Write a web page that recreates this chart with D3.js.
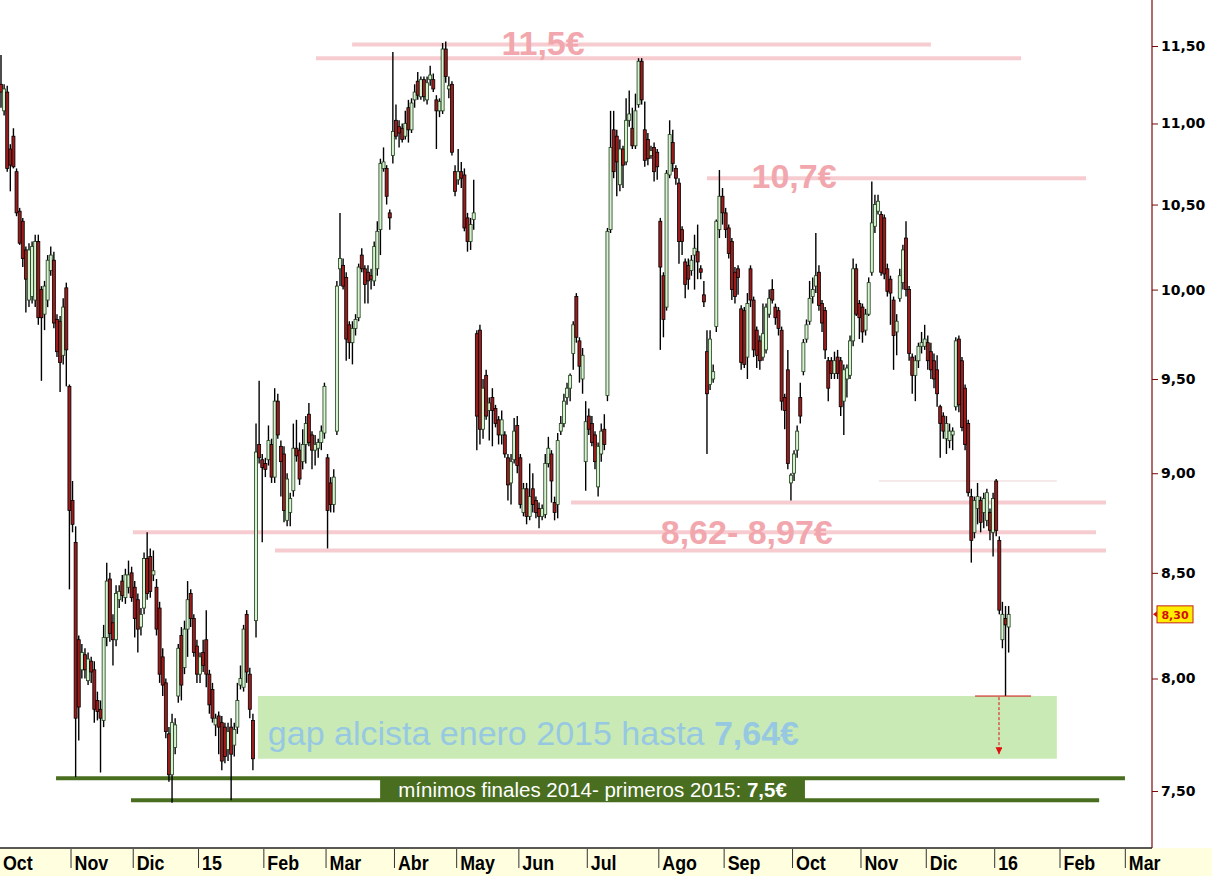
<!DOCTYPE html>
<html><head><meta charset="utf-8">
<script src="https://cdn.jsdelivr.net/npm/d3@7"></script>
<style>html,body{margin:0;padding:0;background:#fff}svg{display:block}</style>
</head><body><svg id="chart" width="1212" height="876"></svg>
<script>
// ---- axis data ----
const monthLabels = ["Oct","Nov","Dic","15","Feb","Mar","Abr","May","Jun","Jul","Ago","Sep","Oct","Nov","Dic","16","Feb","Mar"];
const monthDays   = [23,20,21,21,20,22,20,20,22,23,21,22,22,21,22,21,21,23];
const yTicks = [7.5,8,8.5,9,9.5,10,10.5,11,11.5];
const lastPrice = 8.30;

// ---- daily candles [open, high, low, close] ----
const ohlcOct14 = [[11.25,11.44,11.10,11.20],[11.08,11.25,11.05,11.22],[11.20,11.24,10.70,10.72],[10.84,10.87,10.58,10.74],[10.92,10.97,10.72,10.73],[10.70,10.72,10.43,10.45],[10.46,10.48,10.26,10.27],[10.40,10.42,10.13,10.18],[10.23,10.25,9.87,10.06],[9.94,10.27,9.90,10.23],[9.96,10.28,9.92,10.25],[9.94,10.32,9.90,10.28],[10.28,10.32,9.80,9.84],[10.00,10.02,9.49,9.84],[9.86,10.05,9.77,10.02],[9.94,10.20,9.90,10.17],[10.11,10.25,10.08,10.20],[10.17,10.22,9.78,9.81],[9.83,9.86,9.62,9.65],[9.82,9.85,9.43,9.59],[9.63,9.95,9.58,9.90],[10.01,10.04,9.46,9.66],[9.46,9.47,8.42,8.81]];
const ohlcNov14 = [[8.86,8.96,8.70,8.74],[8.65,8.73,7.56,7.82],[8.18,8.20,7.72,7.87],[8.04,8.16,8.00,8.12],[8.11,8.14,8.00,8.04],[7.99,8.12,7.97,8.09],[8.08,8.10,7.98,8.03],[8.04,8.08,7.80,7.86],[7.90,7.94,7.81,7.85],[7.86,7.90,7.58,7.82],[7.81,8.25,7.78,8.19],[8.19,8.55,8.15,8.46],[8.47,8.50,8.17,8.21],[8.26,8.30,8.06,8.18],[8.18,8.44,8.15,8.40],[8.37,8.44,8.33,8.41],[8.46,8.49,8.36,8.39],[8.38,8.52,8.35,8.49],[8.43,8.56,8.40,8.49],[8.50,8.53,8.36,8.38]];
const ohlcDec14 = [[8.43,8.46,8.19,8.28],[8.37,8.40,8.12,8.23],[8.24,8.33,8.20,8.30],[8.33,8.60,8.30,8.57],[8.57,8.70,8.37,8.40],[8.58,8.62,8.38,8.41],[8.49,8.61,8.46,8.51],[8.43,8.47,8.20,8.23],[8.33,8.36,7.98,8.02],[8.10,8.14,7.92,7.97],[7.98,8.00,7.73,7.76],[7.75,7.78,7.54,7.57],[7.57,7.84,7.45,7.80],[7.69,7.82,7.66,7.79],[7.92,8.16,7.89,8.14],[8.20,8.24,7.90,7.97],[8.05,8.27,8.02,8.23],[8.23,8.46,8.10,8.37],[8.40,8.42,8.24,8.28],[8.28,8.30,8.10,8.12],[8.15,8.18,7.98,8.02]];
const ohlcJan15 = [[8.02,8.12,7.98,8.10],[8.12,8.18,8.03,8.06],[8.18,8.32,7.96,8.02],[8.02,8.04,7.84,7.88],[7.95,7.98,7.80,7.82],[7.79,7.84,7.74,7.82],[7.83,7.85,7.66,7.78],[7.80,7.83,7.59,7.63],[7.78,7.80,7.62,7.65],[7.68,7.80,7.63,7.76],[7.78,7.82,7.46,7.66],[7.70,7.80,7.65,7.77],[7.78,7.98,7.75,7.90],[7.97,8.06,7.95,8.00],[7.96,8.25,7.94,8.23],[8.30,8.32,7.98,8.03],[8.02,8.05,7.82,7.86],[7.81,7.84,7.59,7.64],[8.27,9.26,8.19,9.11],[9.15,9.49,9.05,9.08],[9.07,9.10,8.65,9.03]];
const ohlcFeb15 = [[9.05,9.08,8.98,9.02],[9.07,9.25,9.04,9.17],[9.15,9.18,8.95,8.98],[8.98,9.45,8.95,9.38],[9.38,9.42,9.18,9.20],[9.14,9.17,8.88,9.06],[9.10,9.14,8.75,8.81],[8.76,9.00,8.73,8.97],[8.80,8.90,8.73,8.87],[8.91,9.26,8.88,9.13],[9.13,9.28,9.06,9.09],[9.12,9.16,8.94,8.97],[9.06,9.23,9.02,9.15],[9.15,9.30,9.05,9.26],[9.31,9.37,9.14,9.16],[9.20,9.22,9.02,9.12],[9.12,9.20,9.04,9.15],[9.13,9.18,9.08,9.16],[9.16,9.25,9.12,9.22],[9.21,9.48,9.18,9.46]];
const ohlcMar15 = [[9.08,9.10,8.62,8.81],[8.95,8.98,8.80,8.84],[8.84,9.02,8.80,8.98],[9.22,10.05,9.20,10.02],[10.12,10.45,10.02,10.18],[10.14,10.18,10.00,10.02],[10.07,10.10,9.60,9.72],[9.80,9.82,9.61,9.70],[9.70,9.82,9.58,9.78],[9.78,9.86,9.74,9.83],[9.84,10.15,9.82,10.13],[10.20,10.24,10.10,10.12],[10.12,10.14,9.92,10.03],[10.10,10.14,9.92,10.05],[10.08,10.12,10.00,10.06],[10.05,10.28,10.02,10.25],[10.12,10.40,10.08,10.34],[10.35,10.78,10.20,10.75],[10.72,10.85,10.70,10.76],[10.72,10.74,10.50,10.55],[10.45,10.47,10.35,10.42],[10.80,11.46,10.75,10.95]];
const ohlcApr15 = [[11.02,11.12,10.90,10.92],[10.98,11.02,10.85,10.94],[10.97,11.00,10.88,10.90],[10.92,11.08,10.90,11.00],[11.10,11.15,10.88,10.96],[10.96,11.16,10.94,11.13],[11.15,11.25,11.10,11.20],[11.27,11.33,11.15,11.18],[11.17,11.30,11.15,11.28],[11.28,11.30,11.14,11.17],[11.15,11.30,11.12,11.26],[11.28,11.37,11.24,11.31],[11.28,11.32,11.20,11.22],[11.15,11.18,10.84,11.08],[11.08,11.16,11.04,11.14],[11.08,11.52,11.06,11.48],[11.48,11.53,11.26,11.30],[11.22,11.30,11.16,11.24],[11.25,11.27,10.80,10.82],[10.70,10.74,10.55,10.58]];
const ohlcMay15 = [[10.65,10.84,10.62,10.70],[10.70,10.76,10.60,10.66],[10.68,10.72,10.34,10.36],[10.42,10.45,10.22,10.28],[10.28,10.42,10.23,10.38],[10.41,10.65,10.35,10.45],[9.75,9.77,9.12,9.30],[9.77,9.80,9.15,9.23],[9.23,9.50,9.18,9.45],[9.52,9.55,9.28,9.30],[9.33,9.40,9.17,9.37],[9.40,9.45,9.14,9.33],[9.34,9.36,9.24,9.26],[9.28,9.30,9.15,9.20],[9.20,9.33,9.15,9.28],[9.20,9.22,9.08,9.10],[9.08,9.10,8.86,8.94],[8.95,9.10,8.84,9.06],[9.07,9.29,9.05,9.22],[9.25,9.30,9.00,9.04]];
const ohlcJun15 = [[9.08,9.10,8.82,8.84],[8.80,8.95,8.78,8.92],[8.92,8.95,8.74,8.78],[8.78,9.05,8.76,8.88],[8.92,9.00,8.80,8.84],[8.86,8.88,8.77,8.80],[8.82,8.85,8.72,8.78],[8.78,8.84,8.76,8.82],[8.79,9.10,8.77,9.05],[9.05,9.19,9.03,9.13],[9.10,9.12,8.85,8.96],[8.85,8.88,8.76,8.80],[8.84,9.21,8.77,9.17],[9.22,9.30,9.20,9.26],[9.26,9.42,9.24,9.38],[9.40,9.48,9.36,9.45],[9.45,9.53,9.38,9.52],[9.64,9.82,9.55,9.80],[9.96,9.98,9.70,9.73],[9.71,9.73,9.48,9.57],[9.50,9.67,9.42,9.63],[9.06,9.38,8.91,9.27]];
const ohlcJul15 = [[9.30,9.34,9.20,9.23],[9.26,9.30,9.14,9.16],[9.20,9.22,9.02,9.06],[8.93,9.16,8.88,9.14],[9.10,9.26,9.06,9.22],[9.23,9.31,9.12,9.15],[9.41,10.36,9.38,10.34],[10.35,11.08,10.33,10.85],[10.96,11.08,10.66,10.70],[10.92,10.96,10.55,10.76],[10.62,10.90,10.58,10.84],[10.84,10.86,10.60,10.74],[10.76,11.16,10.74,11.02],[11.02,11.21,10.98,11.06],[10.97,11.10,10.84,10.86],[10.86,11.19,10.84,11.08],[11.12,11.42,11.10,11.40],[11.40,11.42,11.12,11.15],[10.96,11.14,10.73,10.77],[10.90,10.94,10.74,10.78],[10.80,10.86,10.78,10.83],[10.85,10.88,10.64,10.70],[10.82,10.84,10.65,10.73]];
const ohlcAug15 = [[10.40,10.42,9.66,10.13],[10.08,10.10,9.73,9.83],[9.90,10.71,9.88,10.69],[10.68,11.02,10.66,10.93],[10.88,10.96,10.70,10.75],[10.72,10.74,10.62,10.66],[10.63,10.66,10.15,10.28],[10.35,10.37,10.20,10.28],[10.16,10.18,9.95,10.03],[10.14,10.18,10.00,10.06],[10.11,10.20,10.08,10.17],[10.20,10.32,10.00,10.24],[10.22,10.38,10.06,10.16],[10.12,10.14,10.06,10.10],[9.97,10.05,9.90,9.93],[9.65,9.77,9.10,9.42],[9.47,9.77,9.44,9.72],[9.50,9.58,9.48,9.54],[9.79,10.41,9.76,10.40],[10.35,10.71,10.30,10.55],[10.55,10.60,10.38,10.45]];
const ohlcSep15 = [[10.45,10.48,10.30,10.35],[10.36,10.38,10.18,10.21],[10.28,10.30,9.94,10.00],[10.10,10.13,9.92,9.96],[10.12,10.14,9.97,10.07],[9.89,9.91,9.55,9.59],[9.88,9.90,9.56,9.58],[9.62,9.98,9.50,9.92],[10.12,10.14,9.90,9.94],[9.94,9.96,9.62,9.66],[9.77,9.79,9.56,9.63],[9.71,9.74,9.55,9.60],[9.62,9.92,9.60,9.75],[9.66,9.92,9.64,9.90],[9.86,10.00,9.84,9.95],[10.00,10.06,9.92,9.94],[9.90,9.92,9.80,9.84],[9.88,9.90,9.74,9.78],[9.77,9.79,9.33,9.38],[9.40,9.42,9.23,9.33],[9.55,9.66,9.02,9.05],[8.95,9.00,8.86,8.99]];
const ohlcOct15 = [[9.00,9.12,8.96,9.10],[9.12,9.25,9.08,9.22],[9.40,9.48,9.26,9.30],[9.54,9.72,9.52,9.70],[9.72,9.83,9.70,9.80],[9.82,10.05,9.80,9.95],[9.96,10.07,9.92,10.00],[10.02,10.33,9.98,10.08],[10.10,10.14,9.88,9.91],[9.92,9.94,9.76,9.81],[9.88,9.90,9.61,9.66],[9.60,9.62,9.38,9.45],[9.60,9.62,9.50,9.53],[9.53,9.65,9.50,9.60],[9.62,9.66,9.50,9.53],[9.60,9.62,9.30,9.35],[9.38,9.58,9.20,9.55],[9.50,9.58,9.40,9.56],[9.52,9.74,9.50,9.71],[9.71,10.18,9.68,10.12],[10.12,10.15,9.85,9.86],[9.92,9.94,9.72,9.84]];
const ohlcNov15 = [[9.90,9.92,9.70,9.76],[9.77,9.89,9.74,9.86],[9.86,10.07,9.85,10.04],[10.10,10.64,10.08,10.39],[10.37,10.56,10.33,10.50],[10.46,10.56,10.44,10.52],[10.44,10.46,10.08,10.10],[10.42,10.44,10.06,10.09],[10.12,10.15,9.96,9.99],[10.06,10.08,9.80,9.98],[9.94,9.96,9.55,9.74],[9.76,9.86,9.63,9.82],[9.95,10.12,9.93,10.08],[10.04,10.26,10.00,10.23],[10.30,10.40,9.96,10.00],[10.00,10.02,9.60,9.64],[9.62,9.64,9.42,9.52],[9.52,9.63,9.38,9.60],[9.60,9.70,9.56,9.68],[9.68,9.76,9.64,9.70],[9.68,9.80,9.66,9.72]];
const ohlcDec15 = [[9.70,9.74,9.55,9.60],[9.65,9.70,9.50,9.55],[9.60,9.64,9.45,9.50],[9.55,9.63,9.35,9.42],[9.35,9.36,9.08,9.26],[9.30,9.32,9.18,9.22],[9.18,9.30,9.10,9.26],[9.17,9.26,9.13,9.22],[9.20,9.24,9.12,9.22],[9.35,9.73,9.33,9.71],[9.72,9.74,9.32,9.36],[9.60,9.62,9.22,9.24],[9.45,9.47,9.12,9.15],[9.26,9.28,8.88,8.90],[8.88,8.92,8.55,8.66],[8.70,8.88,8.67,8.86],[8.82,8.95,8.74,8.88],[8.86,8.88,8.70,8.75],[8.80,8.90,8.72,8.87],[8.76,8.92,8.73,8.90],[8.80,8.82,8.66,8.71],[8.70,8.90,8.58,8.87]];
const ohlcJan16 = [[8.96,8.97,8.68,8.71],[8.66,8.68,8.30,8.32],[8.18,8.36,8.14,8.30],[8.28,8.34,7.92,8.25],[8.24,8.34,8.12,8.30]];

// ---- annotation data (price levels, spans in trading-day index) ----
const pinkLevels = [[11.51,112.9,299.0],[11.42,101.3,328.0],[10.66,227.0,348.9],[8.85,183.3,355.3],[8.70,42.4,352.1],[8.61,88.1,355.3]];
const thinLevel = [8.96,282.3,339.5];
const gapZone = [7.64,7.92,82.6,339.5];
const minLines = [[7.555,17.7,361.4],[7.46,41.8,353.1]];

const candles = [].concat(ohlcOct14,ohlcNov14,ohlcDec14,ohlcJan15,ohlcFeb15,ohlcMar15,ohlcApr15,ohlcMay15,ohlcJun15,ohlcJul15,ohlcAug15,ohlcSep15,ohlcOct15,ohlcNov15,ohlcDec15,ohlcJan16)
  .map((d,i)=>({i,o:d[0],h:d[1],l:d[2],c:d[3]}));

const svg = d3.select("#chart");
const axisX = 1152, bandTop = 848;
const x = d3.scaleLinear().domain([0,370]).range([1,1151.7]);
const y = d3.scaleLog().domain([7.5,11.5]).range([791,46]);

// pink resistance/support lines
const pink = "#f6ccd0", pinkText = "#f1a7ad";
svg.append("g").selectAll("line").data(pinkLevels).join("line")
  .attr("x1",d=>x(d[1])).attr("x2",d=>x(d[2]))
  .attr("y1",d=>y(d[0])).attr("y2",d=>y(d[0]))
  .attr("stroke",pink).attr("stroke-width",4);
svg.append("line").attr("x1",x(thinLevel[1])).attr("x2",x(thinLevel[2]))
  .attr("y1",y(thinLevel[0])).attr("y2",y(thinLevel[0]))
  .attr("stroke","#eed3d5").attr("stroke-width",1);

// gap zone
svg.append("rect").attr("x",x(gapZone[2])).attr("width",x(gapZone[3])-x(gapZone[2]))
  .attr("y",y(gapZone[1])).attr("height",y(gapZone[0])-y(gapZone[1]))
  .attr("fill","#c9eab5");

// dark green min lines
const dg = "#4a6e1f";
svg.append("g").selectAll("line").data(minLines).join("line")
  .attr("x1",d=>x(d[1])).attr("x2",d=>x(d[2]))
  .attr("y1",d=>y(d[0])).attr("y2",d=>y(d[0]))
  .attr("stroke",dg).attr("stroke-width",4);

// candles
const cg = svg.append("g");
const bw = 3;
cg.selectAll("line.w").data(candles).join("line").attr("class","w")
  .attr("x1",d=>x(d.i)).attr("x2",d=>x(d.i))
  .attr("y1",d=>y(d.h)).attr("y2",d=>y(d.l))
  .attr("stroke","#000").attr("stroke-width",1.4);
cg.selectAll("rect").data(candles).join("rect")
  .attr("x",d=>x(d.i)-bw/2).attr("width",bw)
  .attr("y",d=>y(Math.max(d.o,d.c)))
  .attr("height",d=>Math.max(1,Math.abs(y(d.o)-y(d.c))))
  .attr("fill",d=>d.c>=d.o?"#d6f2d0":"#9c1c1c")
  .attr("stroke",d=>d.c>=d.o?"#1f3d1a":"#000").attr("stroke-width",0.8);

// red marker line + dashed arrow at the final low
svg.append("defs").append("marker").attr("id","ah").attr("viewBox","0 0 10 10")
  .attr("refX",10).attr("refY",5).attr("markerWidth",7).attr("markerHeight",7)
  .attr("markerUnits","userSpaceOnUse").attr("orient","auto")
  .append("path").attr("d","M0,0 L10,5 L0,10 Z").attr("fill","#e01010");
svg.append("line").attr("x1",x(313.2)).attr("x2",x(331.2)).attr("y1",y(7.92)).attr("y2",y(7.92))
  .attr("stroke","#cc1010").attr("stroke-width",1);
svg.append("line").attr("x1",x(320.9)).attr("x2",x(320.9)).attr("y1",y(7.915)).attr("y2",y(7.66))
  .attr("stroke","#e01010").attr("stroke-width",1).attr("stroke-dasharray","3,2")
  .attr("marker-end","url(#ah)");

// labels
function lbl(t,cx,py){return svg.append("text").attr("x",cx).attr("y",y(py)).attr("text-anchor","middle")
  .attr("fill",pinkText).attr("font-family","'Liberation Sans',Arial,sans-serif")
  .attr("font-weight","bold").attr("font-size","34px").text(t);}
lbl("11,5€", x(174.3), 11.44);
lbl("10,7€", x(255.0), 10.60);
lbl("8,62- 8,97€", x(239.8), 8.64);

const gt = svg.append("text").attr("x",x(85.8)).attr("y",y(7.70))
  .attr("font-family","'Liberation Sans',Arial,sans-serif").attr("font-size","34px").attr("fill","#97c8e2");
gt.append("tspan").text("gap alcista enero 2015 hasta ");
gt.append("tspan").attr("font-weight","bold").text("7,64€");

svg.append("rect").attr("x",x(121.9)).attr("width",x(258.5)-x(121.9))
  .attr("y",y(7.555)).attr("height",y(7.46)-y(7.555)).attr("fill",dg);
const mt = svg.append("text").attr("x",x(190.2)).attr("y",y(7.476)).attr("text-anchor","middle")
  .attr("font-family","'Liberation Sans',Arial,sans-serif").attr("font-size","20.5px").attr("fill","#fff");
mt.append("tspan").text("mínimos finales 2014- primeros 2015: ");
mt.append("tspan").attr("font-weight","bold").text("7,5€");

// right price axis
svg.append("line").attr("x1",axisX).attr("x2",axisX).attr("y1",0).attr("y2",bandTop).attr("stroke","#7a0a0a").attr("stroke-width",1.2);
const ya = svg.append("g").attr("transform",`translate(${axisX},0)`)
  .call(d3.axisRight(y).tickValues(yTicks).tickSize(6).tickPadding(3).tickFormat(d=>d.toFixed(2).replace(".",",")));
ya.select(".domain").remove();
ya.selectAll("line").attr("stroke","#7a0a0a");
ya.selectAll("text").attr("font-family","'DejaVu Sans',Verdana,sans-serif").attr("font-weight","bold").attr("font-size","14px").attr("fill","#000");

// last price tag
const ty = y(lastPrice);
svg.append("path").attr("d",`M${axisX+1},${ty} l4,-3 l0,6 z`).attr("fill","#d01010");
svg.append("rect").attr("x",1157).attr("y",ty-8.5).attr("width",36).attr("height",17).attr("fill","#ffee00").attr("stroke","#c02020").attr("stroke-width",1);
svg.append("text").attr("x",1175).attr("y",ty+4.5).attr("text-anchor","middle")
  .attr("font-family","'DejaVu Sans',Verdana,sans-serif").attr("font-weight","bold").attr("font-size","11px").attr("fill","#d01010").text(lastPrice.toFixed(2).replace(".",","));

// bottom time band
svg.append("rect").attr("x",0).attr("y",bandTop).attr("width",1212).attr("height",876-bandTop).attr("fill","#ffffe0");
svg.append("line").attr("x1",0).attr("x2",axisX).attr("y1",bandTop).attr("y2",bandTop).attr("stroke","#222").attr("stroke-width",1.5);
const starts = monthDays.reduce((a,d,k)=>{a.push(k===0?0:a[k-1]+monthDays[k-1]);return a;},[]);
const mg = svg.append("g");
mg.selectAll("line").data(starts).join("line")
  .attr("x1",d=>x(d)-1.5).attr("x2",d=>x(d)-1.5).attr("y1",bandTop+1).attr("y2",bandTop+20)
  .attr("stroke","#333").attr("stroke-width",1);
mg.selectAll("text").data(starts).join("text")
  .attr("transform",d=>`translate(${Math.max(2,x(d)+2)},869.5) scale(0.85,1)`)
  .attr("font-family","'Liberation Sans Narrow','Arial Narrow','Liberation Sans',sans-serif")
  .attr("font-weight","bold").attr("font-size","21px").attr("fill","#000")
  .text((d,k)=>monthLabels[k]);
</script></body></html>
